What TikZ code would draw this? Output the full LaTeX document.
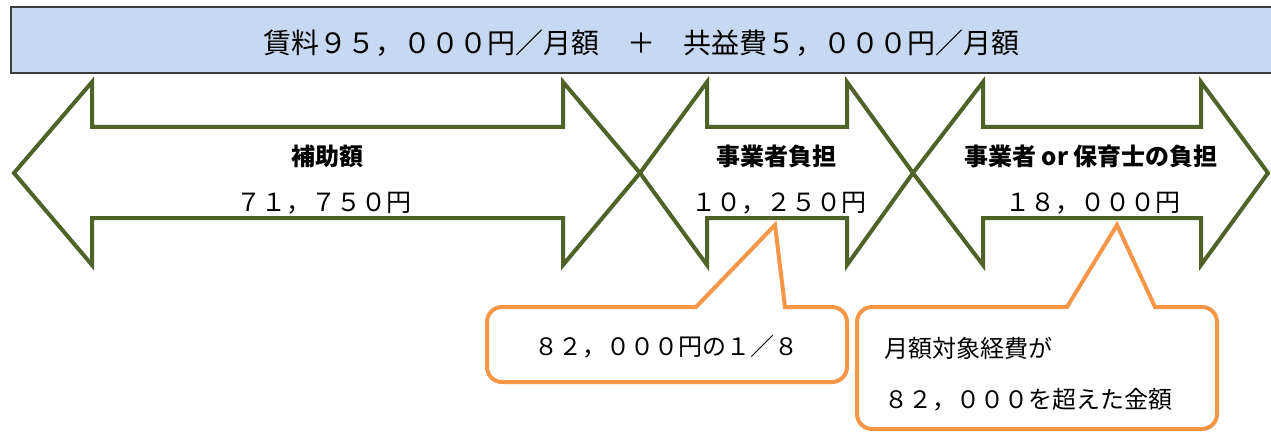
\documentclass[tikz,border=0pt]{standalone}
\usepackage{fontspec}
\setmainfont{Noto Sans CJK JP}
\definecolor{arrowgreen}{RGB}{79,98,40}
\definecolor{calloutorange}{RGB}{247,150,70}
\definecolor{titleblue}{RGB}{198,217,241}
\definecolor{titleborder}{RGB}{60,60,60}
\tikzset{
  titlebox/.style={fill=titleblue, draw=titleborder, line width=1.3pt},
  bigarrow/.style={draw=arrowgreen, line width=4pt, line join=miter},
  calloutbox/.style={draw=calloutorange, fill=white, line width=4pt, line join=miter},
  titletext/.style={inner sep=0pt, font=\fontsize{28}{32}\selectfont},
  labeltext/.style={inner sep=0pt, font=\fontsize{24}{28}\selectfont\bfseries},
  numtext/.style={inner sep=0pt, font=\fontsize{25}{29}\selectfont},
  notetext/.style={inner sep=0pt, font=\fontsize{24}{28}\selectfont},
}
\begin{document}
\begin{tikzpicture}[x=1pt,y=-1pt]
\useasboundingbox (0,0) rectangle (1271,433);
\clip (0,0) rectangle (1271,433);
\fill[white] (0,0) rectangle (1271,433);

% title bar
\draw[titlebox] (11,7) rectangle (1280,73);
\node[titletext] (title) at (641,43) {賃料９５，０００円／月額　＋　共益費５，０００円／月額};

% double arrows
\draw[bigarrow] (14,173) -- (92,82) -- (92,127) -- (563,127) -- (563,82) -- (640,173)
  -- (563,265) -- (563,218) -- (92,218) -- (92,265) -- cycle;
\draw[bigarrow] (640,173) -- (707,82) -- (707,127) -- (847,127) -- (847,82) -- (913,173)
  -- (847,265) -- (847,218) -- (707,218) -- (707,265) -- cycle;
\draw[bigarrow] (913,173) -- (983,82) -- (983,127) -- (1201,127) -- (1201,82) -- (1268,173)
  -- (1201,265) -- (1201,218) -- (983,218) -- (983,265) -- cycle;

% arrow labels
\node[labeltext] (lab1) at (327,156) {補助額};
\node[numtext] (num1) at (324,203) {７１，７５０円};
\node[labeltext] (lab2) at (776,156) {事業者負担};
\node[numtext] (num2) at (779,203) {１０，２５０円};
\node[labeltext] (lab3) at (1091,156) {事業者 or 保育士の負担};
\node[numtext] (num3) at (1093,203) {１８，０００円};

% callout 1
\draw[calloutbox] (667,382) [rounded corners=15pt] -- (487,382) -- (487,307)
  [sharp corners] -- (696,307) -- (775,225) -- (785,307)
  [rounded corners=15pt] -- (847,307) -- (847,382) -- cycle;
\node[notetext] (note1) at (666,347) {８２，０００円の１／８};

% callout 2
\draw[calloutbox] (1037,429) [rounded corners=15pt] -- (857,429) -- (857,307)
  [sharp corners] -- (1067,307) -- (1117,225) -- (1155,307)
  [rounded corners=15pt] -- (1217,307) -- (1217,429) -- cycle;
\node[notetext, anchor=west] (note2a) at (884,348) {月額対象経費が};
\node[notetext, anchor=west] (note2b) at (884,400) {８２，０００を超えた金額};
\end{tikzpicture}
\end{document}
